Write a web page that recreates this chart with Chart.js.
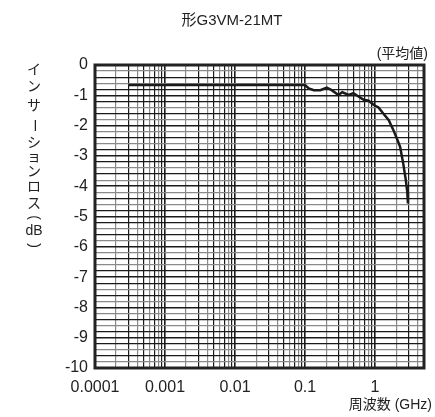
<!DOCTYPE html>
<html>
<head>
<meta charset="utf-8">
<script src="https://cdn.jsdelivr.net/npm/chart.js@4"></script>
<style>
  html, body { margin: 0; padding: 0; background: #fff; }
  #wrap { width: 435px; height: 417px; }
</style>
</head>
<body>
<div id="wrap"><canvas id="lossChart" width="435" height="417"></canvas></div>
<script>
// 形G3VM-21MT insertion loss (average)
const freqGHz = [0.0003, 0.1, 0.113, 0.133, 0.165, 0.204, 0.24, 0.30, 0.34, 0.42, 0.49, 0.58, 0.69, 0.81, 0.96, 1.12, 1.31, 1.57, 1.83, 2.04, 2.28, 2.52, 2.75, 2.88, 2.95];
const lossDb = [-0.66, -0.66, -0.77, -0.83, -0.83, -0.75, -0.83, -0.99, -0.90, -0.99, -0.93, -1.04, -1.15, -1.18, -1.32, -1.40, -1.60, -1.82, -2.15, -2.42, -2.70, -3.24, -3.80, -4.18, -4.57];

const xDecades = [0.0001, 0.001, 0.01, 0.1, 1];
const xMax = 5;
const yMin = -10, yMax = 0, yStep = 0.2;

const chartTitle = "形G3VM-21MT";
const noteText = "(平均値)";
const xTitle = "周波数 (GHz)";
// vertical writing: "ー" and the parens are turned a quarter
const yTitleChars = ["イ", "ン", "サ", "ー", "シ", "ョ", "ン", "ロ", "ス", "(", "dB", ")"];
const turned = ["ー", "(", ")"];

const latin = '"Liberation Sans", Arial, sans-serif';
const cjk = '"Liberation Sans", "Noto Sans CJK JP", sans-serif';

// all 1..9 x decade ticks up to xMax
function logTicks() {
  const out = [];
  xDecades.forEach(d => {
    for (let m = 1; m <= 9; m++) {
      const v = d * m;
      if (v <= xMax * 1.0001) out.push({ value: v });
    }
  });
  return out;
}

function mantissa(v) {
  const e = Math.floor(Math.log10(v) + 1e-9);
  return Math.round(v / Math.pow(10, e));
}

const textPlugin = {
  id: "texts",
  afterDraw(chart) {
    const ctx = chart.ctx;
    const a = chart.chartArea;
    ctx.save();
    ctx.fillStyle = "#222";
    ctx.textBaseline = "middle";

    ctx.font = "15px " + cjk;
    ctx.textAlign = "center";
    ctx.fillText(chartTitle, 232, 21);

    ctx.font = "14px " + cjk;
    ctx.textAlign = "right";
    ctx.fillText(noteText, 428, 54);
    ctx.fillText(xTitle, 432, 405);

    // vertical y title, one glyph under another
    ctx.font = "14px " + cjk;
    ctx.textAlign = "center";
    const steps = [17.5, 19, 19, 18, 14, 15, 15, 17, 13, 14, 14, 0];
    let y = 70;
    yTitleChars.forEach((ch, i) => {
      if (turned.includes(ch)) {
        ctx.save();
        ctx.translate(34, y);
        ctx.rotate(Math.PI / 2);
        ctx.fillText(ch, 0, 0);
        ctx.restore();
      } else {
        ctx.fillText(ch, 34, y);
      }
      y += steps[i];
    });

    // heavy frame
    ctx.strokeStyle = "#222";
    ctx.lineWidth = 3;
    ctx.strokeRect(a.left, a.top, a.right - a.left, a.bottom - a.top);
    ctx.restore();
  }
};

new Chart(document.getElementById("lossChart"), {
  type: "line",
  data: {
    datasets: [{
      data: freqGHz.map((f, i) => ({ x: f, y: lossDb[i] })),
      borderColor: "#1a1a1a",
      borderWidth: 2.5,
      pointRadius: 0,
      tension: 0,
      fill: false
    }]
  },
  options: {
    responsive: false,
    animation: false,
    layout: { padding: { top: 65, right: 11, left: 0, bottom: 0 } },
    plugins: { legend: { display: false }, tooltip: { enabled: false } },
    scales: {
      x: {
        type: "logarithmic",
        min: xDecades[0],
        max: xMax,
        afterBuildTicks: s => { s.ticks = logTicks(); },
        afterFit: s => { s.height = 49; },
        border: { display: false },
        grid: {
          drawTicks: false,
          color: c => {
            const m = mantissa(c.tick.value);
            return (m === 1 || m % 2 === 1) ? "#1a1a1a" : "#8a8a8a";
          },
          lineWidth: c => mantissa(c.tick.value) === 1 ? 1.6 : 1.2
        },
        ticks: {
          autoSkip: false,
          maxRotation: 0,
          padding: 10,
          color: "#222",
          font: { family: latin, size: 16 },
          callback: v => xDecades.some(d => Math.abs(d - v) / d < 1e-6) ? String(v) : ""
        }
      },
      y: {
        type: "linear",
        min: yMin,
        max: yMax,
        afterFit: s => { s.width = 95; },
        border: { display: false },
        grid: {
          drawTicks: false,
          color: c => {
            const i = Math.round(Math.abs(c.tick.value) / yStep);
            return (i % 5 === 0 || i % 2 === 0) ? "#1a1a1a" : "#8a8a8a";
          },
          lineWidth: c => {
            const i = Math.round(Math.abs(c.tick.value) / yStep);
            return i % 5 === 0 ? 1.6 : 1.2;
          }
        },
        ticks: {
          stepSize: yStep,
          autoSkip: false,
          padding: 7,
          color: "#222",
          font: { family: latin, size: 16 },
          callback: v => Math.abs(v - Math.round(v)) < 1e-6 ? String(Math.round(v)) : ""
        }
      }
    }
  },
  plugins: [textPlugin]
});
</script>
</body>
</html>
